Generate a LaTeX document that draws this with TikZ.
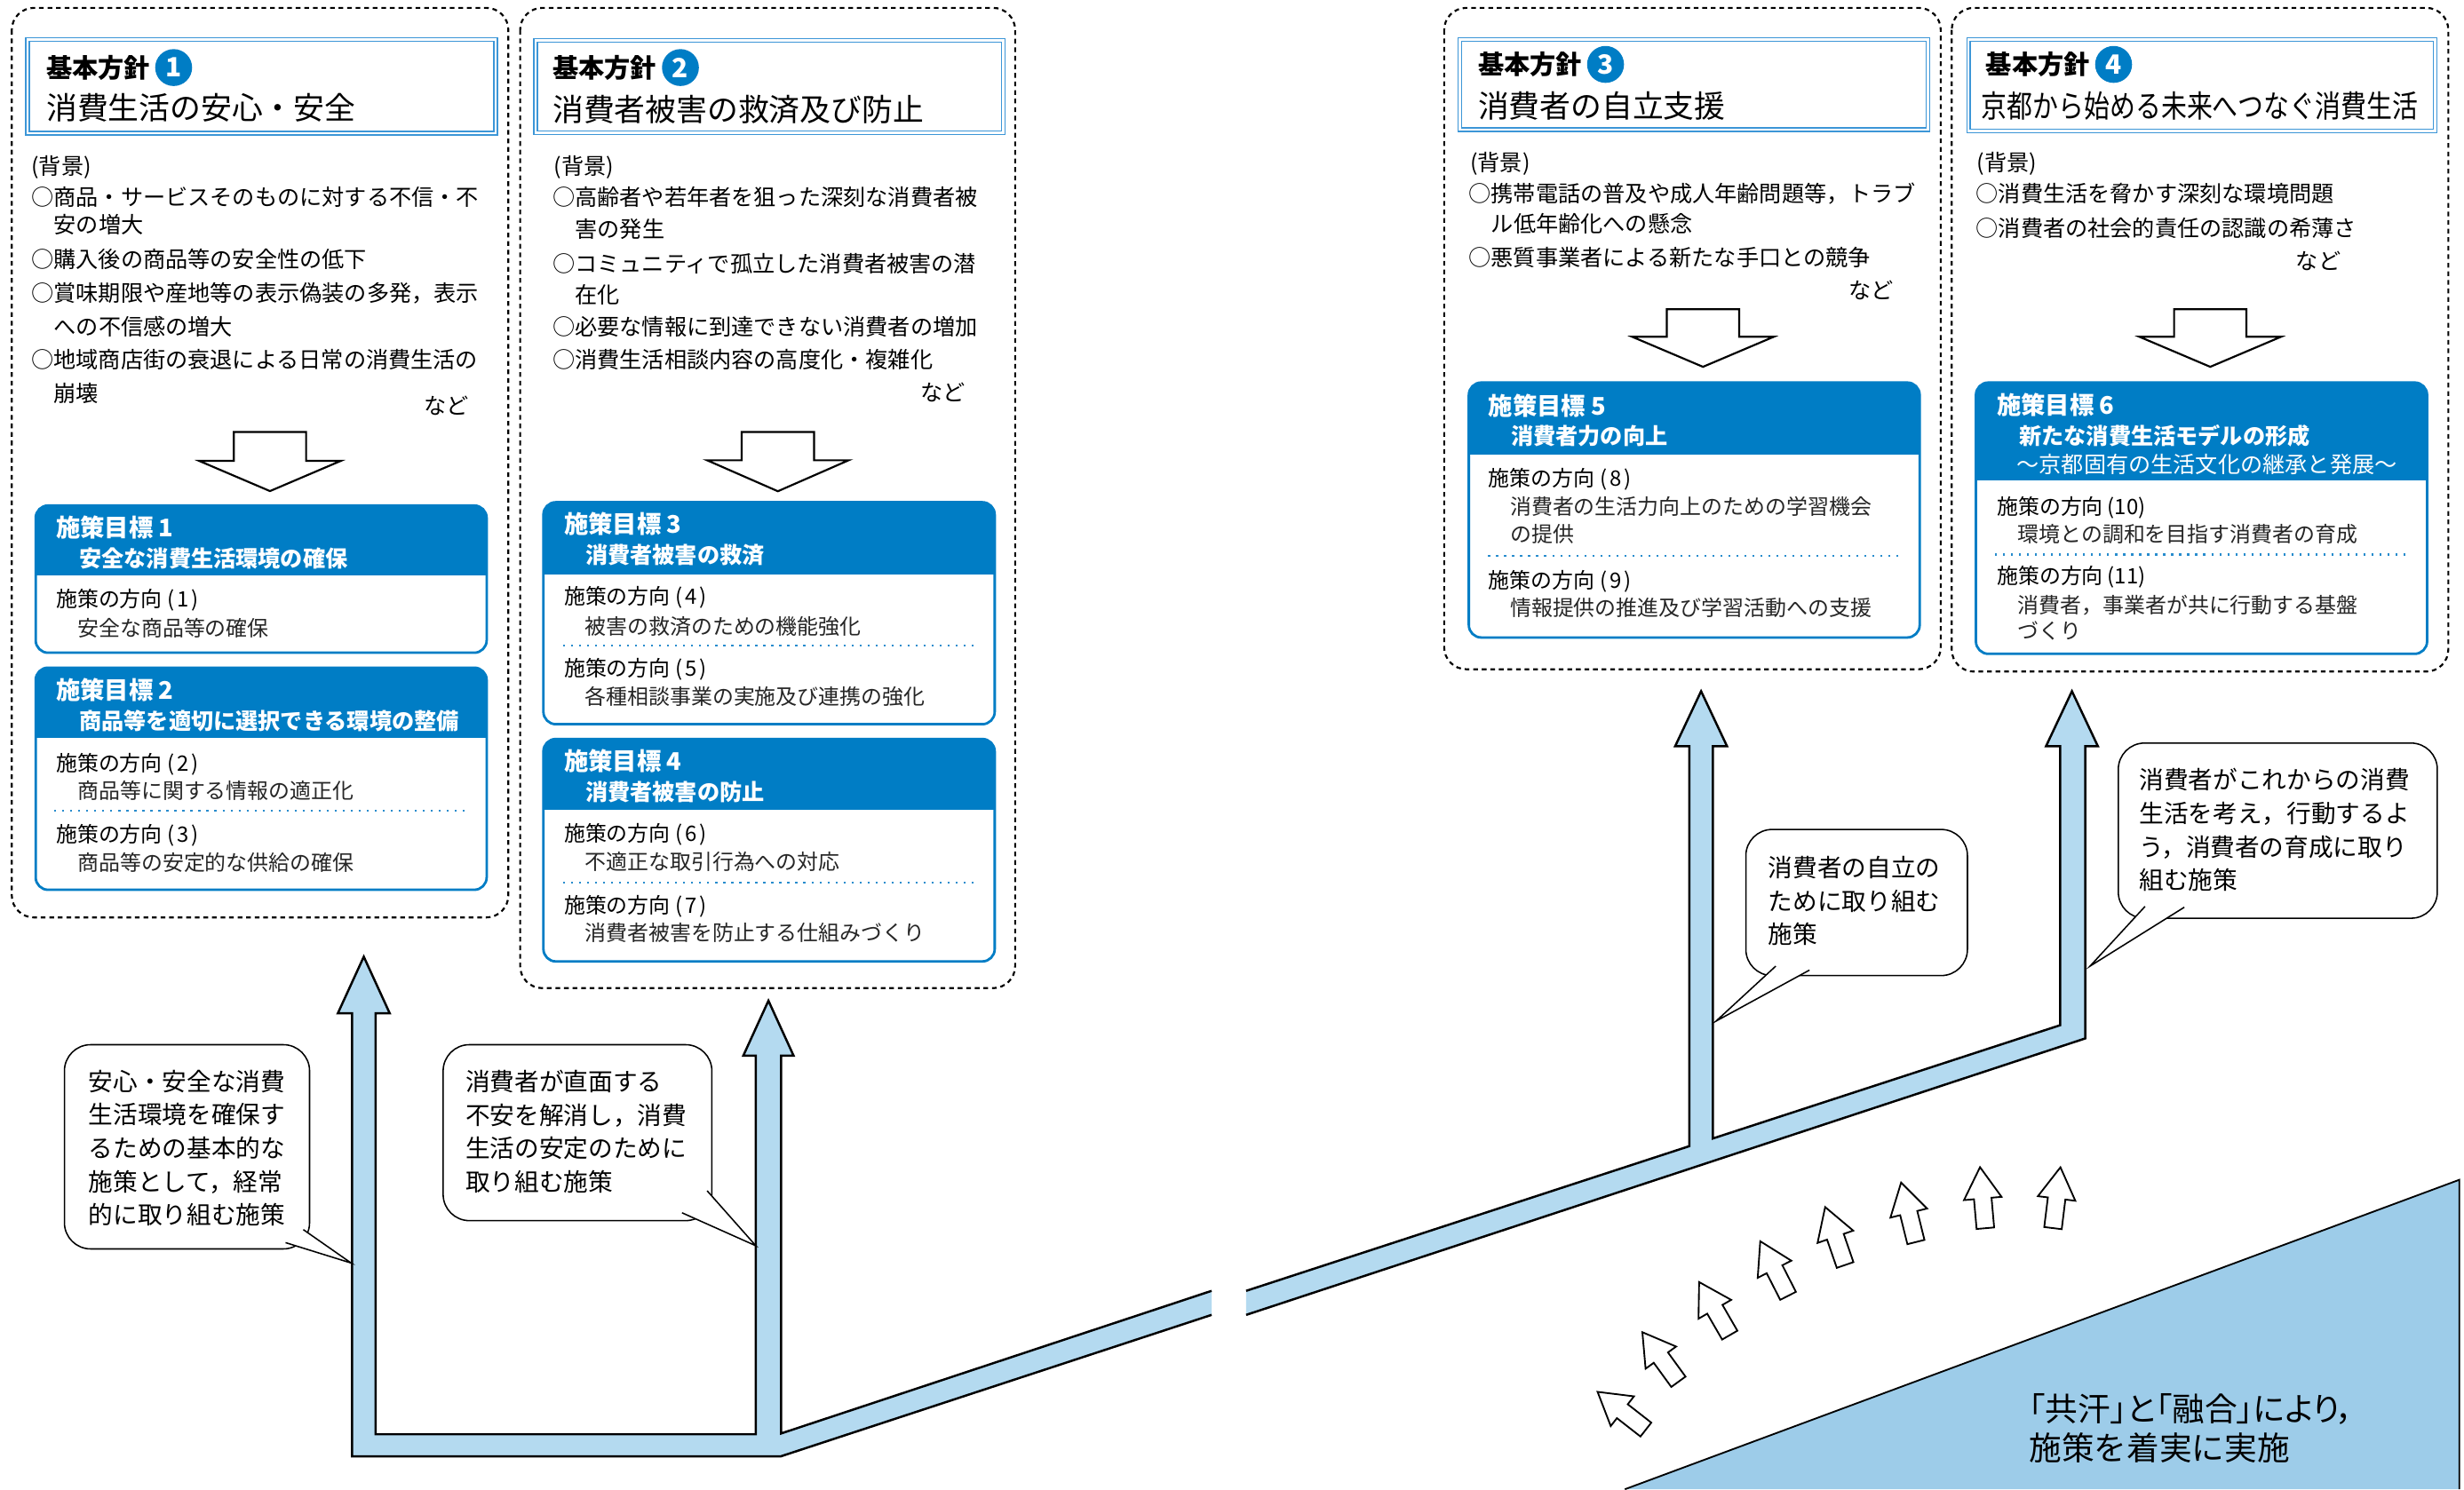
\documentclass[tikz,border=0pt]{standalone}
\usepackage{fontspec}
\setmainfont{Noto Sans CJK JP}
\usepackage{graphicx}
\definecolor{gblue}{RGB}{0,125,197}
\definecolor{tblue}{RGB}{60,150,215}
\definecolor{flowblue}{RGB}{180,218,240}
\definecolor{triblue}{RGB}{157,204,233}
\definecolor{dotblue}{RGB}{40,140,205}
\newcommand\myfTitle{\fontsize{11.2pt}{13pt}\selectfont}
\newcommand\myfKihon{\fontsize{9.4pt}{11pt}\selectfont\bfseries}
\newcommand\myfNum{\fontsize{9.6pt}{11pt}\selectfont\bfseries}
\newcommand\myfBg{\fontsize{8.1pt}{10pt}\selectfont}
\newcommand\myfHead{\fontsize{8.8pt}{10pt}\selectfont\bfseries}
\newcommand\myfSub{\fontsize{8.1pt}{10pt}\selectfont\bfseries}
\newcommand\myfSubR{\fontsize{8.1pt}{10pt}\selectfont}
\newcommand\myfBody{\fontsize{7.7pt}{9pt}\selectfont}
\newcommand\myfCall{\fontsize{8.9pt}{12.1pt}\selectfont}
\newcommand\myfTri{\fontsize{11.8pt}{14.2pt}\selectfont}
\newcommand\mydir[1]{施策の方向\hspace{0.25em}(\hspace{0.12em}#1\hspace{0.12em})}
\newcommand\mydirb[1]{施策の方向\hspace{0.2em}(#1)}
\tikzset{
 txt/.style={inner sep=0pt, outer sep=0pt, anchor=west},
 bgt/.style={txt, font=\myfBg},
 headt/.style={txt, font=\myfHead, text=white},
 subt/.style={txt, font=\myfSub, text=white},
 dirt/.style={txt, font=\myfBody, text=black},
 bodyt/.style={txt, font=\myfBody, text=black!85},
 panelbox/.style={draw=black, line width=0.7pt, dash pattern=on 1.7pt off 1.4pt, rounded corners=8pt},
 titlebox/.style={draw=tblue, line width=0.45pt},
 numcirc/.style={circle, fill=gblue, text=white, font=\myfNum, minimum size=0.47cm, inner sep=0pt},
 openarrow/.style={draw=black, fill=white, line width=0.7pt, line join=miter},
 smallarrow/.style={draw=black, fill=white, line width=0.6pt, line join=miter},
 flowline/.style={draw=black, line width=0.8pt, line join=miter},
 callbox/.style={draw=black, line width=0.5pt, fill=white, rounded corners=9.5pt},
 tailline/.style={draw=black, line width=0.5pt},
 callt/.style={inner sep=0pt, anchor=north west, align=left, font=\myfCall},
 dotsep/.style={draw=dotblue, line width=0.7pt, dash pattern=on 0.7pt off 2.2pt},
}
\newcommand\mygoal[5]{%
 \begin{scope}
 \clip[rounded corners=4.5pt] (#1,#2) rectangle (#3,#4);
 \fill[white] (#1,#2) rectangle (#3,#4);
 \fill[gblue] (#1,#2) rectangle (#3,#5);
 \end{scope}
 \draw[gblue, line width=0.9pt, rounded corners=4.5pt] (#1,#2) rectangle (#3,#4);}
\newcommand\mytitlebox[4]{%
 \draw[titlebox] (#1,#2) rectangle (#3,#4);
 \draw[titlebox] (#1+2.2,#2+2.2) rectangle (#3-2.2,#4-2.2);}
\newcommand\myarrowdown[4]{%
 \draw[openarrow] (#1-23,#2) -- (#1+23,#2) -- (#1+23,#3) -- (#1+45,#3) -- (#1,#4) -- (#1-45,#3) -- (#1-23,#3) -- cycle;}
\newcommand\mysmallarrow[3]{%
 \draw[smallarrow, shift={(#1,#2)}, rotate=#3] (0,-19.5) -- (12,0.5) -- (5.6,0.5) -- (5.6,19.5) -- (-5.6,19.5) -- (-5.6,0.5) -- (-12,0.5) -- cycle;}
\begin{document}
\begin{tikzpicture}[x=0.02cm,y=-0.02cm]
\useasboundingbox (0,0) rectangle (1568,948);
\fill[white] (0,0) rectangle (1568,948);

% ---------- panels ----------
\draw[panelbox] (7.5,5) rectangle (323.5,584);
\draw[panelbox] (331,5) rectangle (646,629);
\draw[panelbox] (919,5) rectangle (1235,426);
\draw[panelbox] (1242,5) rectangle (1558,427.5);

\mytitlebox{16.4}{24.1}{316.5}{85.8}
\mytitlebox{339.8}{24.5}{639.4}{85.7}
\mytitlebox{928}{24}{1228}{83.6}
\mytitlebox{1251.6}{24}{1550.6}{84.4}

% titles
\node[txt, font=\myfKihon] (p1k) at (29.5,43) {基本方針};
\node[numcirc] (p1n) at (110.5,43) {1};
\node[txt, font=\myfTitle] (p1t) at (29.5,68.8) {消費生活の安心・安全};
\node[txt, font=\myfKihon] (p2k) at (351.7,43) {基本方針};
\node[numcirc] (p2n) at (433,43) {2};
\node[txt, font=\myfTitle] (p2t) at (351.7,69.6) {消費者被害の救済及び防止};
\node[txt, font=\myfKihon] (p3k) at (940.6,41) {基本方針};
\node[numcirc] (p3n) at (1021.7,41) {3};
\node[txt, font=\myfTitle] (p3t) at (940.6,67.2) {消費者の自立支援};
\node[txt, font=\myfKihon] (p4k) at (1263.8,41) {基本方針};
\node[numcirc] (p4n) at (1345,41) {4};
\node[txt, font=\myfTitle] (p4t) at (1261,67.2) {\scalebox{0.83}[1]{京都から始める未来へつなぐ消費生活}};

% background texts panel 1
\node[bgt] (b1a) at (20,106.4) {(背景)};
\node[bgt] (b1b) at (20,125.3) {○商品・サービスそのものに対する不信・不};
\node[bgt] (b1c) at (34.3,143.1) {安の増大};
\node[bgt] (b1d) at (20,164.9) {○購入後の商品等の安全性の低下};
\node[bgt] (b1e) at (20,186.5) {○賞味期限や産地等の表示偽装の多発，表示};
\node[bgt] (b1f) at (34.3,208.1) {への不信感の増大};
\node[bgt] (b1g) at (20,229) {○地域商店街の衰退による日常の消費生活の};
\node[bgt] (b1h) at (34.3,250.5) {崩壊};
\node[bgt, anchor=east] (b1i) at (298.5,258.3) {など};
% panel 2
\node[bgt] (b2a) at (352.7,106.5) {(背景)};
\node[bgt] (b2b) at (351.7,125.3) {○高齢者や若年者を狙った深刻な消費者被};
\node[bgt] (b2c) at (366,146) {害の発生};
\node[bgt] (b2d) at (351.7,167.7) {○コミュニティで孤立した消費者被害の潜};
\node[bgt] (b2e) at (366,187.5) {在化};
\node[bgt] (b2f) at (351.7,208) {○必要な情報に到達できない消費者の増加};
\node[bgt] (b2g) at (351.7,229) {○消費生活相談内容の高度化・複雑化};
\node[bgt, anchor=east] (b2h) at (614.5,249.7) {など};
% panel 3
\node[bgt] (b3a) at (935.6,104) {(背景)};
\node[bgt] (b3b) at (934.7,123.4) {○携帯電話の普及や成人年齢問題等，トラブ};
\node[bgt] (b3c) at (949,142.6) {ル低年齢化への懸念};
\node[bgt] (b3d) at (934.7,163.7) {○悪質事業者による新たな手口との競争};
\node[bgt, anchor=east] (b3e) at (1205,185) {など};
% panel 4
\node[bgt] (b4a) at (1258,104) {(背景)};
\node[bgt] (b4b) at (1257.5,123.4) {○消費生活を脅かす深刻な環境問題};
\node[bgt] (b4c) at (1257.5,145.3) {○消費者の社会的責任の認識の希薄さ};
\node[bgt, anchor=east] (b4d) at (1489.6,165.9) {など};

% open down arrows
\myarrowdown{171.8}{275}{293.4}{312.6}
\myarrowdown{495}{275}{293}{312.7}
\myarrowdown{1083.7}{196.8}{214.4}{233.5}
\myarrowdown{1406.5}{196.8}{214.4}{233.5}

% ---------- goal boxes ----------
\mygoal{22.7}{321.8}{309.7}{415.5}{366}
\node[headt] (g1h) at (35.7,335.8) {施策目標 1};
\node[subt] (g1s) at (50.5,355.3) {安全な消費生活環境の確保};
\node[dirt] (g1d) at (35.7,382) {\mydir{1}};
\node[bodyt] (g1t) at (49.4,399.6) {安全な商品等の確保};

\mygoal{22.7}{425}{309.7}{566.4}{469.6}
\node[headt] (g2h) at (35.7,439.4) {施策目標 2};
\node[subt] (g2s) at (50.5,458.8) {商品等を適切に選択できる環境の整備};
\node[dirt] (g2d) at (35.7,486.3) {\mydir{2}};
\node[bodyt] (g2t) at (49.4,503) {商品等に関する情報の適正化};
\draw[dotsep] (34.6,516) -- (298.6,516);
\node[dirt] (g2d3) at (35.7,531.8) {\mydir{3}};
\node[bodyt] (g2t3) at (49.4,549) {商品等の安定的な供給の確保};

\mygoal{345.8}{319.7}{633}{461}{365.5}
\node[headt] (g3h) at (359,333.6) {施策目標 3};
\node[subt] (g3s) at (372.6,353.3) {消費者被害の救済};
\node[dirt] (g3d) at (359,380.3) {\mydir{4}};
\node[bodyt] (g3t) at (372.2,398.7) {被害の救済のための機能強化};
\draw[dotsep] (358.4,411) -- (620.7,411);
\node[dirt] (g3d5) at (359,426) {\mydir{5}};
\node[bodyt] (g3t5) at (372.2,443.5) {各種相談事業の実施及び連携の強化};

\mygoal{345.8}{470.4}{633}{612}{515.5}
\node[headt] (g4h) at (359,484.5) {施策目標 4};
\node[subt] (g4s) at (372.6,504) {消費者被害の防止};
\node[dirt] (g4d) at (359,531) {\mydir{6}};
\node[bodyt] (g4t) at (372.2,548.4) {不適正な取引行為への対応};
\draw[dotsep] (358.4,561.8) -- (620.7,561.8);
\node[dirt] (g4d7) at (359,576.7) {\mydir{7}};
\node[bodyt] (g4t7) at (372.2,593.8) {消費者被害を防止する仕組みづくり};

\mygoal{934.7}{243.5}{1221.6}{405.8}{289.3}
\node[headt] (g5h) at (947.3,258.3) {施策目標 5};
\node[subt] (g5s) at (961.6,277.5) {消費者力の向上};
\node[dirt] (g5d) at (947.3,304.9) {\mydir{8}};
\node[bodyt] (g5t) at (961,322.2) {消費者の生活力向上のための学習機会};
\node[bodyt] (g5t2) at (961,340) {の提供};
\draw[dotsep] (947,353.7) -- (1210,353.7);
\node[dirt] (g5d9) at (947.3,370) {\mydir{9}};
\node[bodyt] (g5t9) at (961,386.6) {情報提供の推進及び学習活動への支援};

\mygoal{1257.4}{243.5}{1544.5}{416.2}{305.7}
\node[headt] (g6h) at (1270.8,257.7) {施策目標 6};
\node[subt] (g6s) at (1285,277.5) {新たな消費生活モデルの形成};
\node[txt, font=\myfSubR, text=white] (g6s2) at (1283.4,295.5) {〜京都固有の生活文化の継承と発展〜};
\node[dirt] (g6d) at (1270.8,323) {\mydirb{10}};
\node[bodyt] (g6t) at (1284,340) {環境との調和を目指す消費者の育成};
\draw[dotsep] (1269.6,353) -- (1533,353);
\node[dirt] (g6d11) at (1270.8,367.4) {\mydirb{11}};
\node[bodyt] (g6t11) at (1284,385.2) {消費者，事業者が共に行動する基盤};
\node[bodyt] (g6t11b) at (1284,401.6) {づくり};

% ---------- flow ----------
\fill[flowblue] (771,837) -- (497,927) -- (224,927) -- (224,645) -- (215,645) -- (231.5,609) -- (248,645) -- (239,645) -- (239,913) -- (481,913) -- (481,672) -- (473,672) -- (489,637) -- (505,672) -- (497,672) -- (497,912.5) -- (771,821.7) -- cycle;
\draw[flowline] (771,837) -- (497,927) -- (224,927) -- (224,645) -- (215,645) -- (231.5,609) -- (248,645) -- (239,645) -- (239,913) -- (481,913) -- (481,672) -- (473,672) -- (489,637) -- (505,672) -- (497,672) -- (497,912.5) -- (771,821.7);
\fill[flowblue] (793,821.7) -- (1075,729.6) -- (1075,475) -- (1066,475) -- (1082.5,440) -- (1099,475) -- (1090,475) -- (1090,724.7) -- (1311,652.6) -- (1311,475) -- (1302,475) -- (1318.5,440) -- (1335,475) -- (1327,475) -- (1327,661) -- (793,837) -- cycle;
\draw[flowline] (793,821.7) -- (1075,729.6) -- (1075,475) -- (1066,475) -- (1082.5,440) -- (1099,475) -- (1090,475) -- (1090,724.7) -- (1311,652.6) -- (1311,475) -- (1302,475) -- (1318.5,440) -- (1335,475) -- (1327,475) -- (1327,661) -- (793,837);

% ---------- callouts ----------
\coordinate (c1tip) at (223.5,804);
\draw[callbox] (41,665) rectangle (197,795);
\fill[white] (193,782.7) -- (c1tip) -- (181.7,791) -- cycle;
\draw[tailline] (193,782.7) -- (c1tip) -- (181.7,791);
\node[callt] (c1) at (56,680.8) {安心・安全な消費\\生活環境を確保す\\るための基本的な\\施策として，経常\\的に取り組む施策};

\coordinate (c2tip) at (481,793);
\draw[callbox] (282,665) rectangle (453,777);
\fill[white] (450,758) -- (c2tip) -- (434,772) -- cycle;
\draw[tailline] (450,758) -- (c2tip) -- (434,772);
\node[callt] (c2) at (296,680.8) {消費者が直面する\\不安を解消し，消費\\生活の安定のために\\取り組む施策};

\coordinate (c3tip) at (1092,650);
\draw[callbox] (1111,528) rectangle (1252,621);
\fill[white] (1130,615) -- (c3tip) -- (1151.5,617.5) -- cycle;
\draw[tailline] (1130,615) -- (c3tip) -- (1151.5,617.5);
\node[callt] (c3) at (1125,544.8) {消費者の自立の\\ために取り組む\\施策};

\coordinate (c4tip) at (1330,615);
\draw[callbox] (1348,473) rectangle (1551,584.5);
\fill[white] (1365,577) -- (c4tip) -- (1390,577.5) -- cycle;
\draw[tailline] (1365,577) -- (c4tip) -- (1390,577.5);
\node[callt] (c4) at (1361,488.8) {消費者がこれからの消費\\生活を考え，行動するよ\\う，消費者の育成に取り\\組む施策};

% ---------- triangle ----------
\fill[triblue] (1034,948) -- (1565,751) -- (1565,948) -- cycle;
\draw[line width=0.6pt] (1034,948) -- (1565,751) -- (1565,948);
\node[inner sep=0pt, anchor=north west, align=left, font=\myfTri] (tri) at (1291,886.5) {{\addfontfeatures{RawFeature=+palt}「共汗」と「融合」により，}\\施策を着実に実施};

% ---------- small arrows ----------
\mysmallarrow{1032}{898}{52}
\mysmallarrow{1056.6}{863.8}{36}
\mysmallarrow{1091}{833}{30}
\mysmallarrow{1129}{807.5}{27}
\mysmallarrow{1167.8}{786.8}{19}
\mysmallarrow{1214.5}{771.7}{14}
\mysmallarrow{1261.7}{762.4}{5}
\mysmallarrow{1308.8}{762.4}{-7}
\end{tikzpicture}
\end{document}
